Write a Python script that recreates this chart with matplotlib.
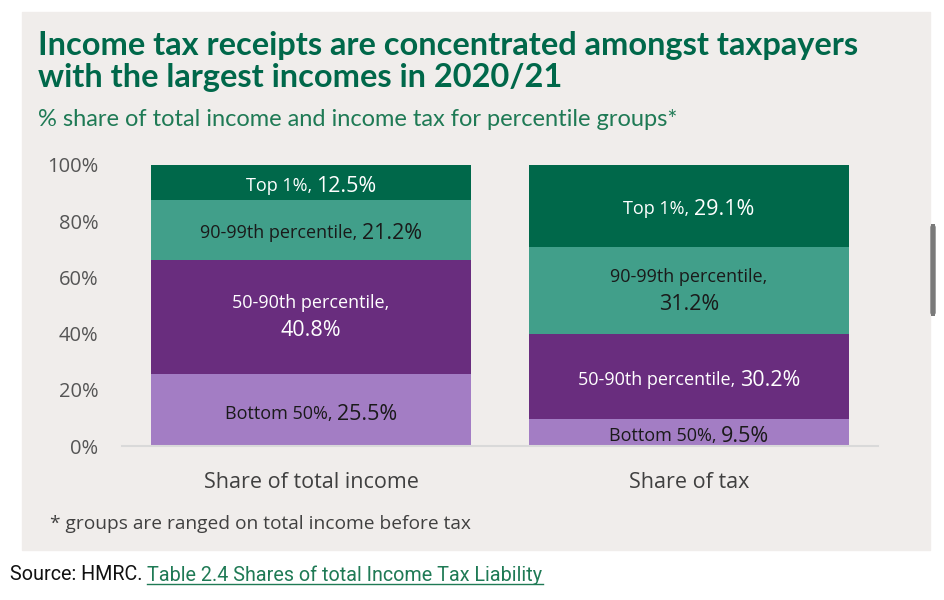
import matplotlib
matplotlib.use("Agg")
import matplotlib.pyplot as plt
import matplotlib.transforms as mtransforms
from matplotlib.patches import Rectangle, FancyBboxPatch

categories = ["Share of total income", "Share of tax"]
groups = ["Bottom 50%", "50-90th percentile", "90-99th percentile", "Top 1%"]
income = [25.5, 40.8, 21.2, 12.5]
tax = [9.5, 30.2, 31.2, 29.1]
# which labels go over two lines, per bar
wrap_income = [False, True, False, False]
wrap_tax = [False, False, True, False]

colors = ["#a37dc4", "#692d7e", "#419f8a", "#00684a"]
text_colors = ["#1a1a1a", "white", "#1a1a1a", "white"]
green = "#00684a"

plt.rcParams['font.family'] = ['Open Sans', 'DejaVu Sans']

fig = plt.figure(figsize=(9.44, 6), dpi=100)
fig.patch.set_facecolor("white")
fig.patches.append(Rectangle((22/944, 1-550/600), (930-22)/944, (550-12)/600,
                             transform=fig.transFigure, color="#f0edeb", zorder=-2))
# scroll bar thing on the right
fig.patches.append(FancyBboxPatch((931/944, 1-315/600), 4/944, 90/600,
                                  boxstyle="round,pad=0,rounding_size=0.004",
                                  transform=fig.transFigure, color="#7a7a7a", zorder=-1))

ax = fig.add_axes([122/944, 1-446/600, (878-122)/944, (446-165)/600])
ax.set_facecolor("none")
ax.set_zorder(2)
renderer = fig.canvas.get_renderer()

series = [income, tax]
wraps = [wrap_income, wrap_tax]
for i, vals in enumerate(series):
    bottom = 0
    for j, v in enumerate(vals):
        ax.bar(i, v, bottom=bottom, width=0.845, color=colors[j], zorder=2)
        yc = bottom + v/2
        name = groups[j] + ","
        num = f"{v}%"
        if wraps[i][j]:
            t1 = ax.text(i, yc, name, ha="center", va="center", color=text_colors[j],
                         fontsize=13, zorder=3)
            t2 = ax.text(i, yc, num, ha="center", va="center", color=text_colors[j],
                         fontsize=15.5, zorder=3)
            t1.set_transform(mtransforms.offset_copy(ax.transData, fig=fig, x=0, y=10, units="points"))
            t2.set_transform(mtransforms.offset_copy(ax.transData, fig=fig, x=0, y=-10, units="points"))
        else:
            t1 = ax.text(i, yc, name + " ", ha="right", va="center_baseline", color=text_colors[j],
                         fontsize=13, zorder=3)
            t2 = ax.text(i, yc, num, ha="left", va="center_baseline", color=text_colors[j],
                         fontsize=15.5, zorder=3)
            w1 = t1.get_window_extent(renderer).width
            w2 = t2.get_window_extent(renderer).width
            dx = (w1 - w2) / 2 * 72 / fig.dpi
            t1.set_transform(mtransforms.offset_copy(ax.transData, fig=fig, x=dx, y=-1, units="points"))
            t2.set_transform(mtransforms.offset_copy(ax.transData, fig=fig, x=dx, y=-1, units="points"))
        bottom += v

ax.set_xlim(-0.5, 1.5)
ax.set_ylim(0, 100)
ax.set_yticks(range(0, 101, 20))
ax.set_yticklabels([f"{t}%" for t in range(0, 101, 20)])
ax.set_xticks([0, 1])
ax.set_xticklabels(categories)
for s in ["top", "right", "left"]:
    ax.spines[s].set_visible(False)
ax.spines["bottom"].set_color("#d9d9d9")
ax.spines["bottom"].set_linewidth(1.5)
ax.tick_params(axis="y", length=0, pad=17, labelsize=14.5, labelcolor="#555555")
ax.tick_params(axis="x", length=0, pad=19, labelsize=15.5, labelcolor="#404040")

fig.text(38/944, 1-45/600, "Income tax receipts are concentrated amongst taxpayers",
         fontsize=23.4, fontweight="bold", color=green, va="center",
         family=['Lato', 'DejaVu Sans'])
fig.text(38/944, 1-78/600, "with the largest incomes in 2020/21",
         fontsize=23.4, fontweight="bold", color=green, va="center",
         family=['Lato', 'DejaVu Sans'])
fig.text(38/944, 1-120/600, "% share of total income and income tax for percentile groups*",
         fontsize=17, color="#1f7a55", va="center", family=['Lato', 'DejaVu Sans'])
fig.text(50/944, 1-524/600, "* groups are ranged on total income before tax",
         fontsize=13.8, color="#404040", va="center")

src = fig.text(10/944, 1-575/600, "Source: HMRC. ", fontsize=14.2, color="#111111", va="center",
               family=['Roboto', 'DejaVu Sans'])
fig.canvas.draw()
bb = src.get_window_extent()
x0 = bb.x1 / fig.bbox.width
link = fig.text(x0, 1-575/600, "Table 2.4 Shares of total Income Tax Liability", fontsize=14.2,
                color="#1f7a55", va="center", family=['Roboto', 'DejaVu Sans'])
fig.canvas.draw()
lb = link.get_window_extent()
uy = (lb.y0 + 1) / fig.bbox.height
fig.add_artist(plt.Line2D([lb.x0/fig.bbox.width, lb.x1/fig.bbox.width], [uy, uy],
                          transform=fig.transFigure, color="#1f7a55", lw=1))

fig.savefig("out.png", dpi=100)
